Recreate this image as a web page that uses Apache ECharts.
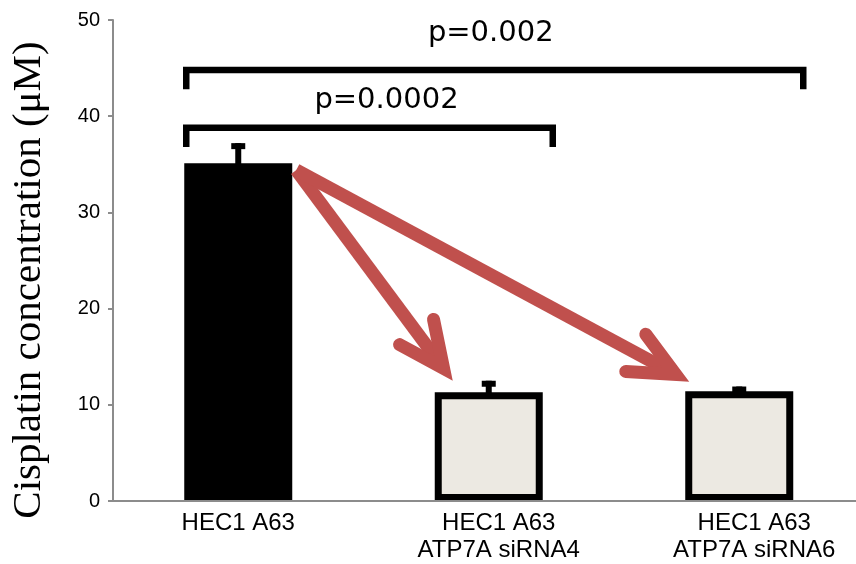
<!DOCTYPE html>
<html>
<head>
<meta charset="utf-8">
<script src="https://cdn.jsdelivr.net/npm/echarts@6/dist/echarts.min.js"></script>
<style>html,body{margin:0;padding:0;background:#fff;overflow:hidden;}#main{width:880px;height:564px;}</style>
</head>
<body>
<div id="main"></div>
<script>
// ---- data ----
const categories = ['HEC1 A63', 'HEC1 A63\nATP7A siRNA4', 'HEC1 A63\nATP7A siRNA6'];
const meanValues = [35.1, 11.3, 11.4];
const errorValues = [2.1, 1.2, 0.5];
const yAxisMin = 0, yAxisMax = 50, yAxisInterval = 10;
const yAxisTitle = 'Cisplatin concentration (\u03bcM)';
// significance brackets
const bracketFrom = [0, 0];
const bracketTo = [1, 2];
const bracketLevel = [38.8, 44.8];
const bracketLegEnd = [36.8, 42.8];
const pValueLabels = ['p=0.0002', 'p=0.002'];
const pLabelLevel = [41.6, 48.6];
// arrows
const arrowFromCat = [0, 0];
const arrowFromValue = [34.4, 34.4];
const arrowToCat = [1, 2];
const arrowToValue = [12.5, 12.4];

// ---- styles ----
const BAR_FILLS = ['#000000', '#ECE9E2', '#ECE9E2'];
const LABEL_PAD = [0, 20, 30];
const P_LABEL_DX = [23, 2];
const BRACKET_DX = [-52, 64];
const ARROW_START_DX = 58;
const ARROW_TIP_DX = [-36, -50];
const ARROW_COLOR = '#C0504D';

const chart = echarts.init(document.getElementById('main'), null, {renderer: 'canvas'});

const errData = categories.map((c, i) => [i, meanValues[i], meanValues[i] + errorValues[i]]);
const bracketData = bracketFrom.map((f, i) => [f, bracketTo[i], bracketLevel[i], bracketLegEnd[i], pLabelLevel[i], i]);
const arrowData = arrowFromCat.map((f, i) => [f, arrowFromValue[i], arrowToCat[i], arrowToValue[i], i]);

chart.setOption({
  animation: false,
  backgroundColor: '#ffffff',
  grid: {left: 113, top: 20, width: 751.5, height: 481, containLabel: false},
  xAxis: {
    type: 'category',
    data: categories.map((c, i) => ({value: c, textStyle: {padding: [0, 0, 0, LABEL_PAD[i]]}})),
    z: 5,
    axisLine: {lineStyle: {color: '#8c8c8c', width: 2}},
    axisTick: {show: false},
    axisLabel: {color: '#000', fontFamily: 'Liberation Sans', fontSize: 24, lineHeight: 27, margin: 9, interval: 0}
  },
  yAxis: {
    type: 'value', min: yAxisMin, max: yAxisMax, interval: yAxisInterval,
    axisLine: {show: true, lineStyle: {color: '#8c8c8c', width: 2}},
    axisTick: {show: true, length: 5, lineStyle: {color: '#8c8c8c', width: 2}},
    splitLine: {show: false},
    axisLabel: {color: '#000', fontFamily: 'Liberation Sans', fontSize: 20, margin: 13}
  },
  graphic: [{
    type: 'text', x: 29, y: 280, rotation: Math.PI / 2,
    style: {text: yAxisTitle, font: '41px "Liberation Serif"', fill: '#000', align: 'center', verticalAlign: 'middle'}
  }],
  series: [
    {
      type: 'bar', barWidth: 108, z: 2,
      data: meanValues.map((v, i) => ({value: v, itemStyle: {color: BAR_FILLS[i], borderColor: '#000', borderWidth: 7}}))
    },
    {
      type: 'custom', z: 3,
      data: errData,
      renderItem: function (params, api) {
        const base = api.coord([api.value(0), api.value(1)]);
        const top = api.coord([api.value(0), api.value(2)]);
        return {type: 'group', children: [
          {type: 'rect', shape: {x: base[0] - 3, y: top[1], width: 6, height: base[1] - top[1] + 2}, style: {fill: '#000'}},
          {type: 'rect', shape: {x: base[0] - 7, y: top[1], width: 14, height: 6}, style: {fill: '#000'}}
        ]};
      }
    },
    {
      type: 'custom', z: 4,
      data: bracketData,
      renderItem: function (params, api) {
        const i = api.value(5);
        const a = api.coord([api.value(0), api.value(2)]);
        const b = api.coord([api.value(1), api.value(2)]);
        const leg = api.coord([api.value(0), api.value(3)]);
        const lab = api.coord([api.value(0), api.value(4)]);
        const lx = a[0] + BRACKET_DX[0], rx = b[0] + BRACKET_DX[1];
        return {type: 'group', children: [
          {type: 'polyline', shape: {points: [[lx, leg[1]], [lx, a[1]], [rx, a[1]], [rx, leg[1]]]},
           style: {stroke: '#000', lineWidth: 6.5, fill: null, lineJoin: 'miter', lineCap: 'butt'}},
          {type: 'text', x: (a[0] + b[0]) / 2 + P_LABEL_DX[i], y: lab[1],
           style: {text: pValueLabels[i], font: '29px "DejaVu Sans"', fill: '#000', align: 'center', verticalAlign: 'middle'}}
        ]};
      }
    },
    {
      type: 'custom', z: 6,
      data: arrowData,
      renderItem: function (params, api) {
        const i = api.value(4);
        const s0 = api.coord([api.value(0), api.value(1)]);
        const t0 = api.coord([api.value(2), api.value(3)]);
        const sx = s0[0] + ARROW_START_DX, sy = s0[1];
        const tx = t0[0] + ARROW_TIP_DX[i], ty = t0[1];
        let dx = tx - sx, dy = ty - sy; const len = Math.hypot(dx, dy); dx /= len; dy /= len;
        const w = 13, ang = 25 * Math.PI / 180, armLen = 50;
        const back = (w / 2) / Math.sin(ang);
        const cx = tx - dx * back, cy = ty - dy * back;
        const bx = -dx, by = -dy;
        const rot = (x, y, a) => [x * Math.cos(a) - y * Math.sin(a), x * Math.sin(a) + y * Math.cos(a)];
        const r1 = rot(bx, by, ang), r2 = rot(bx, by, -ang);
        return {type: 'group', children: [
          {type: 'line', shape: {x1: sx, y1: sy, x2: cx - dx * 4, y2: cy - dy * 4},
           style: {stroke: ARROW_COLOR, lineWidth: w, lineCap: 'butt'}},
          {type: 'polyline', shape: {points: [[cx + r1[0] * armLen, cy + r1[1] * armLen], [cx, cy], [cx + r2[0] * armLen, cy + r2[1] * armLen]]},
           style: {stroke: ARROW_COLOR, lineWidth: w, fill: null, lineJoin: 'miter', miterLimit: 10, lineCap: 'round'}}
        ]};
      }
    }
  ]
});
</script>
</body>
</html>
